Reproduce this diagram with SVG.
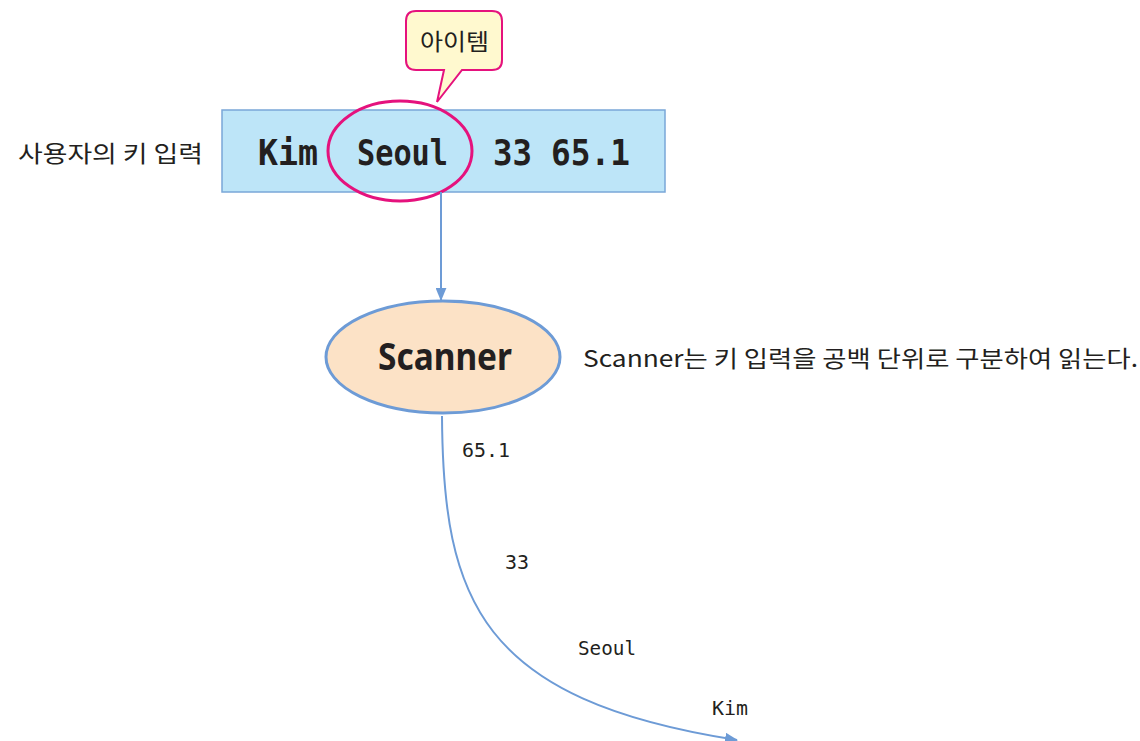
<svg xmlns="http://www.w3.org/2000/svg" width="1140" height="741" viewBox="0 0 1140 741">
<style>
.kr{font-family:"Noto Sans CJK KR","Noto Sans",sans-serif;font-size:23px;fill:#231f20}
.mono{font-family:"DejaVu Sans Mono","Liberation Mono",monospace;fill:#231f20}
.big{font-size:36px;font-weight:bold}
.sm{font-size:20px}
.conn{fill:none;stroke:#6d9bd6;stroke-width:2}
</style>
<defs>
<marker id="arr" viewBox="0 0 12 10" refX="11" refY="5" markerWidth="13" markerHeight="11" orient="auto" markerUnits="userSpaceOnUse">
<path d="M0,0 L12,5 L0,10 z" fill="#6d9bd6"/>
</marker>
</defs>
<rect width="1140" height="741" fill="#ffffff"/>
<g id="label-input"><text class="kr" x="18" y="162" textLength="185" lengthAdjust="spacingAndGlyphs">사용자의 키 입력</text></g>
<g id="input-box">
<rect x="222" y="110" width="443" height="82" fill="#bde5f8" stroke="#7aa7d8" stroke-width="1.5"/>
<text class="mono big" x="258" y="165" textLength="60" lengthAdjust="spacingAndGlyphs">Kim</text>
<text class="mono big" x="357" y="165" textLength="91" lengthAdjust="spacingAndGlyphs">Seoul</text>
<text class="mono big" x="493" y="165" textLength="39" lengthAdjust="spacingAndGlyphs">33</text>
<text class="mono big" x="551" y="165" textLength="79" lengthAdjust="spacingAndGlyphs">65.1</text>
</g>
<g id="item-circle"><ellipse cx="400" cy="151" rx="72" ry="50" fill="none" stroke="#e5127d" stroke-width="3"/></g>
<g id="callout">
<path d="M416,11 H492 Q502,11 502,21 V60 Q502,70 492,70 H462 L437,102 L444,70 H416 Q406,70 406,60 V21 Q406,11 416,11 Z" fill="#fff9cf" stroke="#e5127d" stroke-width="2"/>
<text class="kr" x="420" y="50" font-size="24" textLength="69" lengthAdjust="spacingAndGlyphs">아이템</text>
</g>
<g id="connectors">
<path class="conn" d="M441,192 V300" marker-end="url(#arr)"/>
<path class="conn" d="M442,416 C443,600 480,700 737,740" marker-end="url(#arr)"/>
</g>
<g id="scanner">
<ellipse cx="443" cy="357" rx="117" ry="56" fill="#fce2c6" stroke="#6d9bd6" stroke-width="3"/>
<text x="378" y="370" font-family="Noto Sans, sans-serif" font-weight="bold" font-size="37" fill="#231f20" textLength="134" lengthAdjust="spacingAndGlyphs">Scanner</text>
</g>
<g id="scanner-note"><text class="kr" x="583" y="367" textLength="555" lengthAdjust="spacingAndGlyphs">Scanner는 키 입력을 공백 단위로 구분하여 읽는다.</text></g>
<g id="tokens">
<text class="mono sm" x="462" y="457" textLength="48" lengthAdjust="spacingAndGlyphs">65.1</text>
<text class="mono sm" x="505" y="569" textLength="24" lengthAdjust="spacingAndGlyphs">33</text>
<text class="mono sm" x="578" y="655" textLength="58" lengthAdjust="spacingAndGlyphs">Seoul</text>
<text class="mono sm" x="712" y="715" textLength="36" lengthAdjust="spacingAndGlyphs">Kim</text>
</g>
</svg>
